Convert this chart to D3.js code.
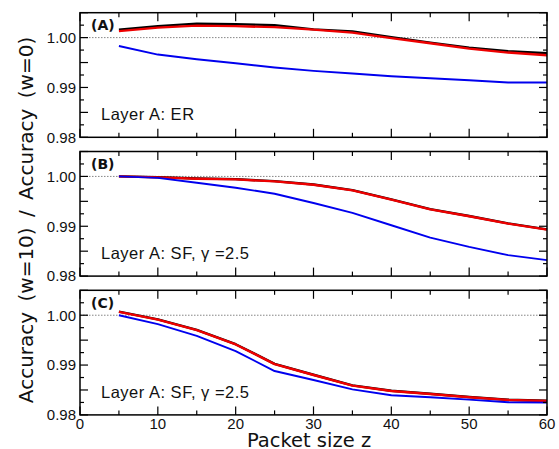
<!DOCTYPE html>
<html>
<head>
<meta charset="utf-8">
<title>Accuracy ratio vs packet size</title>
<style>
body { margin: 0; background: #fff; }
svg { display: block; }
.tick-label { font-family: "Liberation Sans", Arial, sans-serif; font-size: 15px; fill: #111; }
.panel-note { font-family: "Liberation Sans", Arial, sans-serif; font-size: 16.5px; letter-spacing: 0.5px; fill: #111; }
.panel-tag { font-family: "DejaVu Sans", sans-serif; font-size: 14px; font-weight: bold; fill: #111; }
.axis-title { font-family: "DejaVu Sans", sans-serif; font-size: 20px; fill: #111; }
</style>
</head>
<body>
<svg id="chart" width="559" height="449"></svg>
<script src="https://d3js.org/d3.v7.min.js"></script>
<script>
// packet sizes
const packetSize = [5, 10, 15, 20, 25, 30, 35, 40, 45, 50, 55, 60];

// panel A: Layer A ER
const aBlack = [1.0016, 1.0023, 1.0028, 1.0027, 1.0025, 1.00166, 1.00126, 1.0001, 0.9990, 0.9980, 0.99726, 0.99686];
const aRed   = [1.0013, 1.0020, 1.0024, 1.0023, 1.0021, 1.0016, 1.0010, 0.9999, 0.99886, 0.9978, 0.9970, 0.99646];
const aBlue  = [0.99832, 0.9966, 0.99566, 0.99485, 0.9940, 0.99332, 0.9928, 0.99226, 0.99186, 0.99146, 0.9910, 0.9910];

// panel B: Layer A SF, gamma 2.5
const bBlack = [1.0000, 0.99985, 0.99958, 0.99945, 0.99905, 0.99838, 0.99725, 0.99538, 0.99345, 0.99205, 0.99058, 0.98938];
const bRed   = [1.0000, 0.9998, 0.99953, 0.9994, 0.9990, 0.99833, 0.9972, 0.99533, 0.9934, 0.9920, 0.99053, 0.98933];
const bBlue  = [1.0000, 0.9997, 0.99873, 0.99773, 0.99653, 0.99467, 0.99267, 0.9902, 0.98773, 0.98587, 0.9842, 0.9832];

// panel C: Layer A SF, gamma 2.5
const cBlack = [1.00072, 0.99918, 0.99705, 0.99418, 0.99025, 0.98805, 0.98592, 0.98485, 0.98425, 0.98358, 0.98305, 0.98285];
const cRed   = [1.00067, 0.99913, 0.9970, 0.99413, 0.9902, 0.9880, 0.98587, 0.9848, 0.9842, 0.98353, 0.9830, 0.9828];
const cBlue  = [1.0000, 0.9982, 0.99587, 0.9928, 0.9888, 0.9870, 0.98513, 0.98393, 0.98353, 0.98307, 0.98253, 0.98247];

const yTickLabels = [0.98, 0.99, 1.00];
const xTickLabels = [0, 10, 20, 30, 40, 50, 60];

const panels = [
  { tag: "(A)", note: "Layer A: ER", series: [aBlack, aRed, aBlue], top: 12.7 },
  { tag: "(B)", note: "Layer A: SF, \u03b3 =2.5", series: [bBlack, bRed, bBlue], top: 151.5 },
  { tag: "(C)", note: "Layer A: SF, \u03b3 =2.5", series: [cBlack, cRed, cBlue], top: 290.3 }
];
const colors = ["#000000", "#ee0000", "#0000ee"];
const widths = [2.4, 2.4, 1.9];

const left = 80, right = 547, panelH = 124.6;
const svg = d3.select("#chart");

const x = d3.scaleLinear().domain([0, 60]).range([left, right]);
const xMajor = d3.range(0, 61, 10);
const xMinor = d3.range(5, 60, 10);
const yAll = d3.range(0, 11).map(i => 0.98 + i * 0.0025);

panels.forEach((p, pi) => {
  const y = d3.scaleLinear().domain([0.98, 1.005]).range([p.top + panelH, p.top]);
  const g = svg.append("g");

  // reference line at 1.00
  g.append("line")
    .attr("x1", left).attr("x2", right)
    .attr("y1", y(1)).attr("y2", y(1))
    .attr("stroke", "#777").attr("stroke-width", 0.9)
    .attr("stroke-dasharray", "1.5,1.5");

  // curves
  const line = d3.line()
    .x((d, i) => x(packetSize[i]))
    .y(d => y(d));
  p.series.forEach((s, si) => {
    g.append("path")
      .datum(s)
      .attr("fill", "none")
      .attr("stroke", colors[si])
      .attr("stroke-width", widths[si])
      .attr("stroke-linejoin", "round")
      .attr("d", line);
  });

  // frame
  g.append("rect")
    .attr("x", left).attr("y", p.top)
    .attr("width", right - left).attr("height", panelH)
    .attr("fill", "none").attr("stroke", "#000").attr("stroke-width", 1.5);

  // x ticks, inward on bottom and top
  const bottom = p.top + panelH;
  xMajor.concat(xMinor).forEach(v => {
    const len = xMajor.includes(v) ? 8.5 : 4.5;
    g.append("line").attr("x1", x(v)).attr("x2", x(v))
      .attr("y1", bottom).attr("y2", bottom - len)
      .attr("stroke", "#000").attr("stroke-width", 1.2);
    g.append("line").attr("x1", x(v)).attr("x2", x(v))
      .attr("y1", p.top).attr("y2", p.top + len)
      .attr("stroke", "#000").attr("stroke-width", 1.2);
  });

  // y ticks, inward on left and right
  yAll.forEach((v, i) => {
    const len = i % 2 === 0 ? 8 : 4;
    g.append("line").attr("x1", left).attr("x2", left + len)
      .attr("y1", y(v)).attr("y2", y(v))
      .attr("stroke", "#000").attr("stroke-width", 1.2);
    g.append("line").attr("x1", right).attr("x2", right - len)
      .attr("y1", y(v)).attr("y2", y(v))
      .attr("stroke", "#000").attr("stroke-width", 1.2);
  });

  yTickLabels.forEach(v => {
    g.append("text").attr("class", "tick-label")
      .attr("x", 76).attr("y", y(v) + 5.3)
      .attr("text-anchor", "end")
      .text(v.toFixed(2));
  });

  // panel tag and note
  g.append("text").attr("class", "panel-tag")
    .attr("x", 91).attr("y", p.top + 17.5)
    .text(p.tag);
  g.append("text").attr("class", "panel-note")
    .attr("x", 101).attr("y", p.top + 107.5)
    .text(p.note);

  if (pi === panels.length - 1) {
    xTickLabels.forEach(v => {
      g.append("text").attr("class", "tick-label")
        .attr("x", x(v)).attr("y", bottom + 14.5)
        .attr("text-anchor", "middle")
        .text(v);
    });
  }
});

// axis titles
svg.append("text").attr("class", "axis-title")
  .attr("x", 309).attr("y", 446.5).attr("text-anchor", "middle")
  .style("font-size", "19.5px")
  .text("Packet size z");

svg.append("text").attr("class", "axis-title")
  .attr("transform", "translate(33,220) rotate(-90)")
  .attr("text-anchor", "middle")
  .attr("xml:space", "preserve")
  .text("Accuracy\u2009 (w=10)\u2009 / \u2009Accuracy\u2009 (w=0)");
</script>
</body>
</html>
